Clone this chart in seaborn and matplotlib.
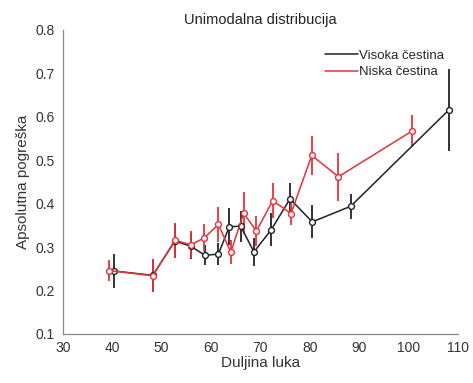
import matplotlib
matplotlib.use("Agg")
import matplotlib.pyplot as plt
import seaborn as sns
import pandas as pd

# Visoka čestina (high frequency)
x_high = [40.3, 48.2, 52.7, 55.9, 58.8, 61.5, 63.7, 66.0, 68.7, 72.2, 76.0, 80.5, 88.3, 108.2]
y_high = [0.245, 0.235, 0.314, 0.302, 0.281, 0.284, 0.347, 0.348, 0.289, 0.340, 0.411, 0.358, 0.394, 0.616]
e_high = [0.040, 0.038, 0.040, 0.030, 0.023, 0.026, 0.043, 0.036, 0.032, 0.038, 0.036, 0.038, 0.029, 0.094]

# Niska čestina (low frequency)
x_low = [39.4, 48.2, 52.7, 55.9, 58.6, 61.5, 64.0, 66.6, 69.2, 72.5, 76.2, 80.4, 85.8, 100.7]
y_low = [0.246, 0.234, 0.316, 0.305, 0.321, 0.352, 0.288, 0.378, 0.337, 0.407, 0.377, 0.511, 0.462, 0.567]
e_low = [0.024, 0.038, 0.040, 0.031, 0.031, 0.040, 0.028, 0.049, 0.035, 0.041, 0.026, 0.044, 0.055, 0.037]

sns.set_style("white")
plt.rcParams["font.family"] = ["Liberation Sans", "DejaVu Sans"]

fig = plt.figure(figsize=(4.73, 3.83), dpi=100)
ax = fig.add_axes([0.133, 0.128, 0.835, 0.794])

black = "#222222"
red = "#e8303a"

for xs, ys, es, col, lab in [(x_high, y_high, e_high, black, "Visoka čestina"),
                             (x_low, y_low, e_low, red, "Niska čestina")]:
    df = pd.DataFrame({"x": xs, "y": ys})
    ax.errorbar(xs, ys, yerr=es, fmt="none", ecolor=col, elinewidth=1.3, capsize=0, zorder=2)
    sns.lineplot(data=df, x="x", y="y", ax=ax, color=col, lw=1.1, sort=False,
                 marker="o", markersize=4.2, markerfacecolor="white",
                 markeredgecolor=col, markeredgewidth=1.0, label=lab, zorder=3)

ax.set_xlim(30, 110)
ax.set_ylim(0.1, 0.8)
ax.set_xticks(range(30, 111, 10))
ax.set_yticks([0.1, 0.2, 0.3, 0.4, 0.5, 0.6, 0.7, 0.8])
ax.set_yticklabels(["0.1", "0.2", "0.3", "0.4", "0.5", "0.6", "0.7", "0.8"])
ax.set_title("Unimodalna distribucija", fontsize=10.5, color="#222222", pad=4)
ax.set_xlabel("Duljina luka", fontsize=11, color="#333333", labelpad=1)
ax.set_ylabel("Apsolutna pogreška", fontsize=11, color="#333333", labelpad=4)

for s in ["top", "right"]:
    ax.spines[s].set_visible(False)
for s in ["left", "bottom"]:
    ax.spines[s].set_color("#888888")
    ax.spines[s].set_linewidth(0.9)
ax.tick_params(axis="x", direction="in", length=4, color="#888888", labelsize=10, labelcolor="#333333", pad=5)
ax.tick_params(axis="y", direction="out", length=4, color="#888888", labelsize=10, labelcolor="#333333", pad=2)

leg = ax.legend(loc="upper right", bbox_to_anchor=(0.995, 0.975), frameon=False, fontsize=9.5,
                handlelength=2.5, handletextpad=0.1, labelspacing=0.35)
for h in leg.legend_handles:
    h.set_marker("")

fig.savefig("out.png", dpi=100)
